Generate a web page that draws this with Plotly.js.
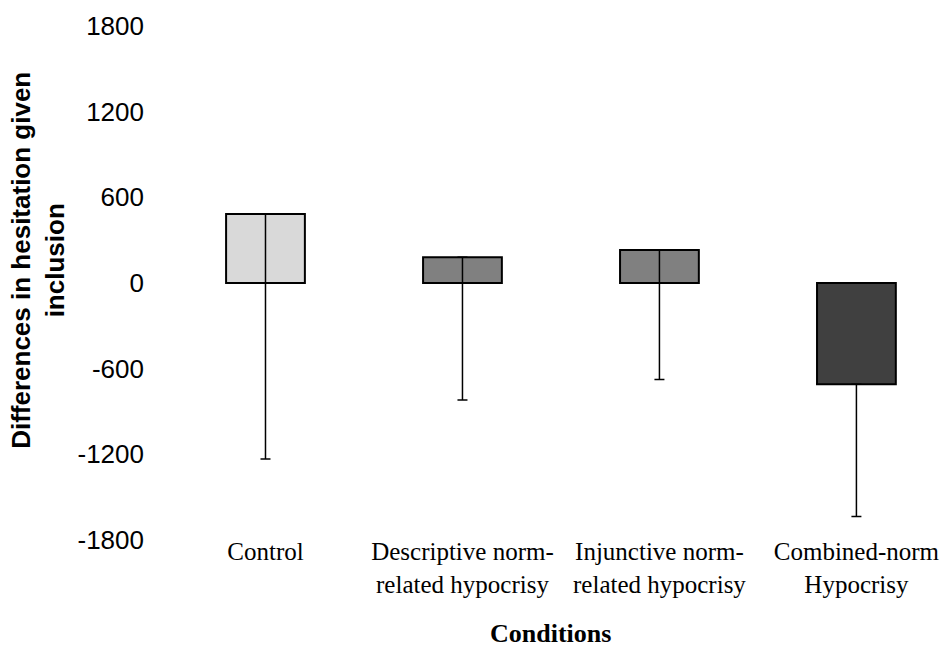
<!DOCTYPE html>
<html>
<head>
<meta charset="utf-8">
<script src="https://cdn.plot.ly/plotly-3.0.1.min.js"></script>
<style>html,body{margin:0;padding:0;background:#fff;}#chart{width:949px;height:648px;}</style>
</head>
<body>
<div id="chart"></div>
<script>
const categories = ["Control", "Descriptive norm-<br>related hypocrisy", "Injunctive norm-<br>related hypocrisy", "Combined-norm<br>Hypocrisy"];
const values = [483, 180, 231, -709];
const errorMinus = [1715, 999, 906, 926];
const errorPlus = [0, 0, 0, 0];
const barColors = ["#d9d9d9", "#808080", "#808080", "#404040"];
const yTicks = [-1800, -1200, -600, 0, 600, 1200, 1800];
const yTitle = "Differences in hesitation given<br>inclusion";
const xTitle = "Conditions";

const trace = {
  type: "bar",
  x: categories,
  y: values,
  width: 0.4,
  marker: {color: barColors, line: {color: "#000", width: 2}},
  error_y: {type: "data", symmetric: false, array: errorPlus, arrayminus: errorMinus,
            color: "#000", thickness: 1.5, width: 5},
  hoverinfo: "none"
};

const layout = {
  width: 949, height: 648,
  margin: {l: 167, r: 0, t: 26, b: 108},
  paper_bgcolor: "#fff", plot_bgcolor: "#fff",
  showlegend: false,
  xaxis: {
    type: "category",
    range: [-0.5, 3.47],
    automargin: false,
    showgrid: false, zeroline: false, showline: false,
    ticks: "",
    ticklabelstandoff: -6,
    tickfont: {family: "Liberation Serif, Times New Roman, serif", size: 25, color: "#000"}
  },
  yaxis: {
    range: [-1800, 1800],
    automargin: false,
    tickvals: yTicks,
    ticktext: yTicks.map(String),
    showgrid: false, zeroline: false, showline: false,
    ticks: "",
    ticklabelstandoff: 22,
    tickfont: {family: "Liberation Sans, Arial, sans-serif", size: 26, color: "#000"}
  },
  annotations: [
    {text: "<b>" + yTitle + "</b>", textangle: -90, xref: "paper", yref: "paper",
     x: -0.165, y: 0.545, xanchor: "center", yanchor: "middle", showarrow: false,
     font: {family: "Liberation Sans, Arial, sans-serif", size: 26, color: "#000"}},
    {text: "<b>" + xTitle + "</b>", xref: "paper", yref: "paper",
     x: (550 - 167) / 782, y: -(633 - 540) / 514, xanchor: "center", yanchor: "middle", showarrow: false,
     font: {family: "Liberation Serif, Times New Roman, serif", size: 26, color: "#000"}}
  ]
};

Plotly.newPlot("chart", [trace], layout, {displayModeBar: false, staticPlot: true});
</script>
</body>
</html>
